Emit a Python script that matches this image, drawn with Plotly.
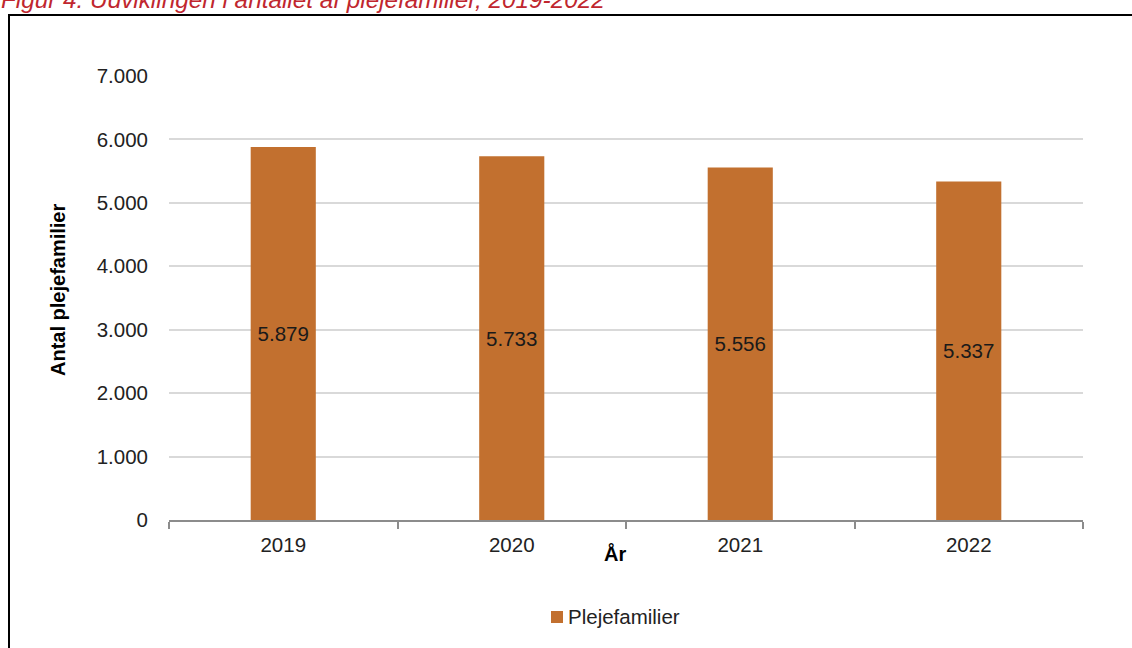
import plotly.graph_objects as go

years = ["2019", "2020", "2021", "2022"]
plejefamilier = [5879, 5733, 5556, 5337]
y_ticks = [0, 1000, 2000, 3000, 4000, 5000, 6000, 7000]
series_name = "Plejefamilier"
bar_color = "#C2702F"

def fmt(v):
    return f"{v:,}".replace(",", ".")

W, H = 1132, 648
L, R, T, B = 169, 1083, 76, 520
pw, ph = R - L, B - T

def px(x):
    return (x - L) / pw

def py(y):
    return (B - y) / ph

FS = 20.5

fig = go.Figure()
fig.add_trace(go.Bar(
    x=years, y=plejefamilier, name=series_name,
    marker=dict(color=bar_color, line=dict(width=0)),
    text=[fmt(v) for v in plejefamilier],
    textposition="inside", insidetextanchor="middle",
    textfont=dict(family="Liberation Sans, Arial", size=FS, color="#1a1a1a"),
    textangle=0, showlegend=False,
))

fig.update_layout(
    width=W, height=H,
    margin=dict(l=L, r=W - R, t=T, b=H - B, autoexpand=False),
    paper_bgcolor="white", plot_bgcolor="white",
    font=dict(family="Liberation Sans, Arial", size=FS, color="#222222"),
    bargap=0.715,
    separators=",.",
    showlegend=False,
    xaxis=dict(
        type="category", showline=True, linecolor="#8C8C8C", linewidth=1.5,
        ticks="outside", tickson="boundaries", ticklen=7, tickcolor="#8C8C8C", tickwidth=1.5,
        showgrid=False, tickfont=dict(size=FS), ticklabelstandoff=6,
    ),
    yaxis=dict(
        range=[0, 7000], tickvals=y_ticks, ticktext=[fmt(v) for v in y_ticks],
        showgrid=True, gridcolor="#D9D9D9", gridwidth=2, zeroline=False,
        showline=False, ticks="", tickfont=dict(size=FS), ticklabelstandoff=20,
    ),
    annotations=[
        dict(text="<i>Figur 4: Udviklingen i antallet af plejefamilier, 2019-2022</i>",
             xref="paper", yref="paper", x=px(-1), y=py(-1), xanchor="left", yanchor="middle",
             showarrow=False, font=dict(size=24.3, color="#C0262E")),
        dict(text="<b>Antal plejefamilier</b>", xref="paper", yref="paper",
             x=px(58), y=py(290), xanchor="center", yanchor="middle",
             textangle=-90, showarrow=False,
             font=dict(size=20, color="#000000")),
        dict(text="<b>År</b>", xref="paper", yref="paper",
             x=px(615), y=py(553), xanchor="center", yanchor="middle",
             showarrow=False, font=dict(size=20, color="#000000")),
        dict(text=series_name, xref="paper", yref="paper",
             x=px(566), y=py(616), xanchor="left", yanchor="middle", showarrow=False,
             font=dict(size=FS, color="#222222")),
    ],
    shapes=[
        dict(type="rect", xref="paper", yref="paper",
             x0=px(9), x1=px(1145), y0=py(665), y1=py(15),
             line=dict(color="#000000", width=2), fillcolor="rgba(0,0,0,0)", layer="above"),
        dict(type="rect", xref="paper", yref="paper",
             x0=px(551), x1=px(563), y0=py(623), y1=py(611),
             line=dict(width=0), fillcolor=bar_color),
    ],
)

fig.write_html("out.html", config={"displayModeBar": False},
               post_script="document.body.style.margin='0';")
